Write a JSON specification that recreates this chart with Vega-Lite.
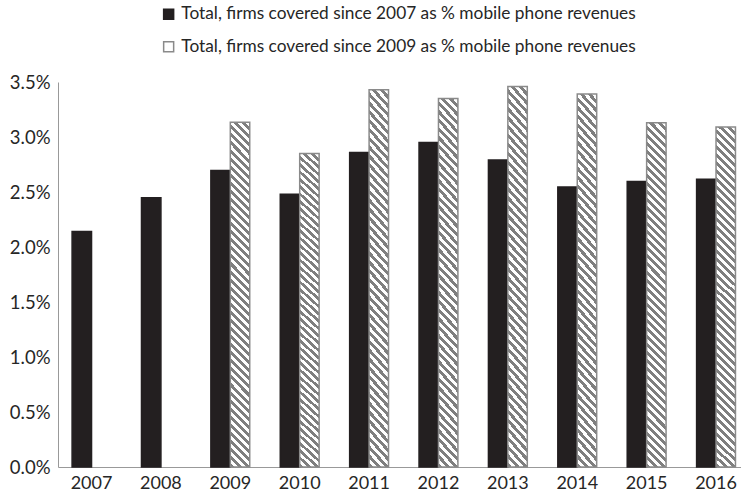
{
  "$schema": "https://vega.github.io/schema/vega-lite/v6.json",
  "width": 683,
  "height": 385,
  "autosize": "none",
  "padding": {"left": 58, "top": 82, "right": 0, "bottom": 27},
  "background": "white",
  "config": {"view": {"stroke": null}, "font": "Lato"},
  "data": {"values": [
    {"year": "2007", "series": "Total, firms covered since 2007 as % mobile phone revenues", "value": 0.0214},
    {"year": "2008", "series": "Total, firms covered since 2007 as % mobile phone revenues", "value": 0.02447},
    {"year": "2009", "series": "Total, firms covered since 2007 as % mobile phone revenues", "value": 0.02695},
    {"year": "2009", "series": "Total, firms covered since 2009 as % mobile phone revenues", "value": 0.03135},
    {"year": "2010", "series": "Total, firms covered since 2007 as % mobile phone revenues", "value": 0.0248},
    {"year": "2010", "series": "Total, firms covered since 2009 as % mobile phone revenues", "value": 0.0285},
    {"year": "2011", "series": "Total, firms covered since 2007 as % mobile phone revenues", "value": 0.0286},
    {"year": "2011", "series": "Total, firms covered since 2009 as % mobile phone revenues", "value": 0.0343},
    {"year": "2012", "series": "Total, firms covered since 2007 as % mobile phone revenues", "value": 0.0295},
    {"year": "2012", "series": "Total, firms covered since 2009 as % mobile phone revenues", "value": 0.0335},
    {"year": "2013", "series": "Total, firms covered since 2007 as % mobile phone revenues", "value": 0.0279},
    {"year": "2013", "series": "Total, firms covered since 2009 as % mobile phone revenues", "value": 0.0346},
    {"year": "2014", "series": "Total, firms covered since 2007 as % mobile phone revenues", "value": 0.02545},
    {"year": "2014", "series": "Total, firms covered since 2009 as % mobile phone revenues", "value": 0.0339},
    {"year": "2015", "series": "Total, firms covered since 2007 as % mobile phone revenues", "value": 0.02595},
    {"year": "2015", "series": "Total, firms covered since 2009 as % mobile phone revenues", "value": 0.0313},
    {"year": "2016", "series": "Total, firms covered since 2007 as % mobile phone revenues", "value": 0.02615},
    {"year": "2016", "series": "Total, firms covered since 2009 as % mobile phone revenues", "value": 0.0309}
  ]},
  "mark": {"type": "bar", "strokeWidth": 1.5},
  "encoding": {
    "x": {
      "field": "year", "type": "ordinal",
      "scale": {"paddingInner": 0.44, "paddingOuter": 0.1415, "align": 0.718},
      "axis": {"title": null, "labelAngle": 0, "ticks": false, "domainColor": "#999999", "domainWidth": 1, "labelFontSize": 18, "labelColor": "#262626", "labelPadding": 7, "labelFont": "Lato"}
    },
    "xOffset": {
      "field": "series", "type": "nominal",
      "scale": {"domain": ["Total, firms covered since 2007 as % mobile phone revenues", "Total, firms covered since 2009 as % mobile phone revenues"], "paddingInner": 0, "paddingOuter": 0}
    },
    "y": {
      "field": "value", "type": "quantitative",
      "scale": {"domain": [0, 0.035], "nice": false},
      "axis": {"title": null, "values": [0, 0.005, 0.01, 0.015, 0.02, 0.025, 0.03, 0.035], "format": ".1%", "grid": false, "ticks": false, "domainColor": "#999999", "domainWidth": 1, "labelFontSize": 18.5, "labelColor": "#262626", "labelPadding": 8, "labelFont": "Lato"}
    },
    "fill": {
      "condition": {"test": "datum.series === 'Total, firms covered since 2009 as % mobile phone revenues'", "value": {"gradient": "linear", "x1": 0, "y1": 1, "x2": 0.06, "y2": -0.06, "stops": [
          {"offset": 0, "color": "#7f7f7f"}, {"offset": 0.011, "color": "#7f7f7f"}, {"offset": 0.011, "color": "#ffffff"}, {"offset": 0.022, "color": "#ffffff"},
          {"offset": 0.022, "color": "#7f7f7f"}, {"offset": 0.033, "color": "#7f7f7f"}, {"offset": 0.033, "color": "#ffffff"}, {"offset": 0.044, "color": "#ffffff"},
          {"offset": 0.044, "color": "#7f7f7f"}, {"offset": 0.055, "color": "#7f7f7f"}, {"offset": 0.055, "color": "#ffffff"}, {"offset": 0.066, "color": "#ffffff"},
          {"offset": 0.066, "color": "#7f7f7f"}, {"offset": 0.077, "color": "#7f7f7f"}, {"offset": 0.077, "color": "#ffffff"}, {"offset": 0.088, "color": "#ffffff"},
          {"offset": 0.088, "color": "#7f7f7f"}, {"offset": 0.099, "color": "#7f7f7f"}, {"offset": 0.099, "color": "#ffffff"}, {"offset": 0.11, "color": "#ffffff"},
          {"offset": 0.11, "color": "#7f7f7f"}, {"offset": 0.121, "color": "#7f7f7f"}, {"offset": 0.121, "color": "#ffffff"}, {"offset": 0.132, "color": "#ffffff"},
          {"offset": 0.132, "color": "#7f7f7f"}, {"offset": 0.143, "color": "#7f7f7f"}, {"offset": 0.143, "color": "#ffffff"}, {"offset": 0.154, "color": "#ffffff"},
          {"offset": 0.154, "color": "#7f7f7f"}, {"offset": 0.165, "color": "#7f7f7f"}, {"offset": 0.165, "color": "#ffffff"}, {"offset": 0.176, "color": "#ffffff"},
          {"offset": 0.176, "color": "#7f7f7f"}, {"offset": 0.187, "color": "#7f7f7f"}, {"offset": 0.187, "color": "#ffffff"}, {"offset": 0.198, "color": "#ffffff"},
          {"offset": 0.198, "color": "#7f7f7f"}, {"offset": 0.209, "color": "#7f7f7f"}, {"offset": 0.209, "color": "#ffffff"}, {"offset": 0.22, "color": "#ffffff"},
          {"offset": 0.22, "color": "#7f7f7f"}, {"offset": 0.231, "color": "#7f7f7f"}, {"offset": 0.231, "color": "#ffffff"}, {"offset": 0.242, "color": "#ffffff"},
          {"offset": 0.242, "color": "#7f7f7f"}, {"offset": 0.253, "color": "#7f7f7f"}, {"offset": 0.253, "color": "#ffffff"}, {"offset": 0.264, "color": "#ffffff"},
          {"offset": 0.264, "color": "#7f7f7f"}, {"offset": 0.275, "color": "#7f7f7f"}, {"offset": 0.275, "color": "#ffffff"}, {"offset": 0.286, "color": "#ffffff"},
          {"offset": 0.286, "color": "#7f7f7f"}, {"offset": 0.297, "color": "#7f7f7f"}, {"offset": 0.297, "color": "#ffffff"}, {"offset": 0.308, "color": "#ffffff"},
          {"offset": 0.308, "color": "#7f7f7f"}, {"offset": 0.319, "color": "#7f7f7f"}, {"offset": 0.319, "color": "#ffffff"}, {"offset": 0.33, "color": "#ffffff"},
          {"offset": 0.33, "color": "#7f7f7f"}, {"offset": 0.341, "color": "#7f7f7f"}, {"offset": 0.341, "color": "#ffffff"}, {"offset": 0.352, "color": "#ffffff"},
          {"offset": 0.352, "color": "#7f7f7f"}, {"offset": 0.363, "color": "#7f7f7f"}, {"offset": 0.363, "color": "#ffffff"}, {"offset": 0.374, "color": "#ffffff"},
          {"offset": 0.374, "color": "#7f7f7f"}, {"offset": 0.385, "color": "#7f7f7f"}, {"offset": 0.385, "color": "#ffffff"}, {"offset": 0.396, "color": "#ffffff"},
          {"offset": 0.396, "color": "#7f7f7f"}, {"offset": 0.407, "color": "#7f7f7f"}, {"offset": 0.407, "color": "#ffffff"}, {"offset": 0.418, "color": "#ffffff"},
          {"offset": 0.418, "color": "#7f7f7f"}, {"offset": 0.429, "color": "#7f7f7f"}, {"offset": 0.429, "color": "#ffffff"}, {"offset": 0.44, "color": "#ffffff"},
          {"offset": 0.44, "color": "#7f7f7f"}, {"offset": 0.451, "color": "#7f7f7f"}, {"offset": 0.451, "color": "#ffffff"}, {"offset": 0.462, "color": "#ffffff"},
          {"offset": 0.462, "color": "#7f7f7f"}, {"offset": 0.473, "color": "#7f7f7f"}, {"offset": 0.473, "color": "#ffffff"}, {"offset": 0.484, "color": "#ffffff"},
          {"offset": 0.484, "color": "#7f7f7f"}, {"offset": 0.495, "color": "#7f7f7f"}, {"offset": 0.495, "color": "#ffffff"}, {"offset": 0.506, "color": "#ffffff"},
          {"offset": 0.506, "color": "#7f7f7f"}, {"offset": 0.517, "color": "#7f7f7f"}, {"offset": 0.517, "color": "#ffffff"}, {"offset": 0.528, "color": "#ffffff"},
          {"offset": 0.528, "color": "#7f7f7f"}, {"offset": 0.539, "color": "#7f7f7f"}, {"offset": 0.539, "color": "#ffffff"}, {"offset": 0.55, "color": "#ffffff"},
          {"offset": 0.55, "color": "#7f7f7f"}, {"offset": 0.561, "color": "#7f7f7f"}, {"offset": 0.561, "color": "#ffffff"}, {"offset": 0.572, "color": "#ffffff"},
          {"offset": 0.572, "color": "#7f7f7f"}, {"offset": 0.583, "color": "#7f7f7f"}, {"offset": 0.583, "color": "#ffffff"}, {"offset": 0.594, "color": "#ffffff"},
          {"offset": 0.594, "color": "#7f7f7f"}, {"offset": 0.605, "color": "#7f7f7f"}, {"offset": 0.605, "color": "#ffffff"}, {"offset": 0.616, "color": "#ffffff"},
          {"offset": 0.616, "color": "#7f7f7f"}, {"offset": 0.627, "color": "#7f7f7f"}, {"offset": 0.627, "color": "#ffffff"}, {"offset": 0.638, "color": "#ffffff"},
          {"offset": 0.638, "color": "#7f7f7f"}, {"offset": 0.649, "color": "#7f7f7f"}, {"offset": 0.649, "color": "#ffffff"}, {"offset": 0.66, "color": "#ffffff"},
          {"offset": 0.66, "color": "#7f7f7f"}, {"offset": 0.671, "color": "#7f7f7f"}, {"offset": 0.671, "color": "#ffffff"}, {"offset": 0.682, "color": "#ffffff"},
          {"offset": 0.682, "color": "#7f7f7f"}, {"offset": 0.693, "color": "#7f7f7f"}, {"offset": 0.693, "color": "#ffffff"}, {"offset": 0.704, "color": "#ffffff"},
          {"offset": 0.704, "color": "#7f7f7f"}, {"offset": 0.715, "color": "#7f7f7f"}, {"offset": 0.715, "color": "#ffffff"}, {"offset": 0.726, "color": "#ffffff"},
          {"offset": 0.726, "color": "#7f7f7f"}, {"offset": 0.737, "color": "#7f7f7f"}, {"offset": 0.737, "color": "#ffffff"}, {"offset": 0.748, "color": "#ffffff"},
          {"offset": 0.748, "color": "#7f7f7f"}, {"offset": 0.759, "color": "#7f7f7f"}, {"offset": 0.759, "color": "#ffffff"}, {"offset": 0.77, "color": "#ffffff"},
          {"offset": 0.77, "color": "#7f7f7f"}, {"offset": 0.781, "color": "#7f7f7f"}, {"offset": 0.781, "color": "#ffffff"}, {"offset": 0.792, "color": "#ffffff"},
          {"offset": 0.792, "color": "#7f7f7f"}, {"offset": 0.803, "color": "#7f7f7f"}, {"offset": 0.803, "color": "#ffffff"}, {"offset": 0.814, "color": "#ffffff"},
          {"offset": 0.814, "color": "#7f7f7f"}, {"offset": 0.825, "color": "#7f7f7f"}, {"offset": 0.825, "color": "#ffffff"}, {"offset": 0.836, "color": "#ffffff"},
          {"offset": 0.836, "color": "#7f7f7f"}, {"offset": 0.847, "color": "#7f7f7f"}, {"offset": 0.847, "color": "#ffffff"}, {"offset": 0.858, "color": "#ffffff"},
          {"offset": 0.858, "color": "#7f7f7f"}, {"offset": 0.869, "color": "#7f7f7f"}, {"offset": 0.869, "color": "#ffffff"}, {"offset": 0.88, "color": "#ffffff"},
          {"offset": 0.88, "color": "#7f7f7f"}, {"offset": 0.891, "color": "#7f7f7f"}, {"offset": 0.891, "color": "#ffffff"}, {"offset": 0.902, "color": "#ffffff"},
          {"offset": 0.902, "color": "#7f7f7f"}, {"offset": 0.913, "color": "#7f7f7f"}, {"offset": 0.913, "color": "#ffffff"}, {"offset": 0.924, "color": "#ffffff"},
          {"offset": 0.924, "color": "#7f7f7f"}, {"offset": 0.935, "color": "#7f7f7f"}, {"offset": 0.935, "color": "#ffffff"}, {"offset": 0.946, "color": "#ffffff"},
          {"offset": 0.946, "color": "#7f7f7f"}, {"offset": 0.957, "color": "#7f7f7f"}, {"offset": 0.957, "color": "#ffffff"}, {"offset": 0.968, "color": "#ffffff"},
          {"offset": 0.968, "color": "#7f7f7f"}, {"offset": 0.979, "color": "#7f7f7f"}, {"offset": 0.979, "color": "#ffffff"}, {"offset": 0.99, "color": "#ffffff"},
          {"offset": 0.99, "color": "#7f7f7f"}, {"offset": 1, "color": "#7f7f7f"}
        ]}},
      "field": "series", "type": "nominal",
      "scale": {"domain": ["Total, firms covered since 2007 as % mobile phone revenues", "Total, firms covered since 2009 as % mobile phone revenues"], "range": ["#231f20", "#ffffff"]},
      "legend": {"title": null, "orient": "none", "legendX": 102, "legendY": -76.5, "direction": "vertical", "padding": 0, "symbolType": "square", "symbolSize": 100, "symbolStrokeWidth": 1.5, "labelFontSize": 17.3, "labelFont": "Lato", "labelColor": "#262626", "labelOffset": 4, "rowPadding": 14.7, "labelLimit": 0,
        "encode": {"symbols": {"update": {"fill": {"signal": "datum.value === 'Total, firms covered since 2009 as % mobile phone revenues' ? {gradient: 'linear', x1: 0, y1: 1, x2: 1, y2: 0, stops: [{offset: 0, color: '#8a8a8a'}, {offset: 0.3, color: '#8a8a8a'}, {offset: 0.3, color: '#ffffff'}, {offset: 0.45, color: '#ffffff'}, {offset: 0.45, color: '#8a8a8a'}, {offset: 0.6, color: '#8a8a8a'}, {offset: 0.6, color: '#ffffff'}, {offset: 1, color: '#ffffff'}]} : '#231f20'"}}}}
      }
    },
    "stroke": {
      "field": "series", "type": "nominal",
      "scale": {"domain": ["Total, firms covered since 2007 as % mobile phone revenues", "Total, firms covered since 2009 as % mobile phone revenues"], "range": ["#231f20", "#8a8a8a"]},
      "legend": {"title": null, "orient": "none", "legendX": 102, "legendY": -76.5, "direction": "vertical", "padding": 0, "symbolType": "square", "symbolSize": 100, "symbolStrokeWidth": 1.5, "labelFontSize": 17.3, "labelFont": "Lato", "labelColor": "#262626", "labelOffset": 4, "rowPadding": 14.7, "labelLimit": 0,
        "encode": {"symbols": {"update": {"fill": {"signal": "datum.value === 'Total, firms covered since 2009 as % mobile phone revenues' ? {gradient: 'linear', x1: 0, y1: 1, x2: 1, y2: 0, stops: [{offset: 0, color: '#8a8a8a'}, {offset: 0.3, color: '#8a8a8a'}, {offset: 0.3, color: '#ffffff'}, {offset: 0.45, color: '#ffffff'}, {offset: 0.45, color: '#8a8a8a'}, {offset: 0.6, color: '#8a8a8a'}, {offset: 0.6, color: '#ffffff'}, {offset: 1, color: '#ffffff'}]} : '#231f20'"}}}}
      }
    }
  }
}
